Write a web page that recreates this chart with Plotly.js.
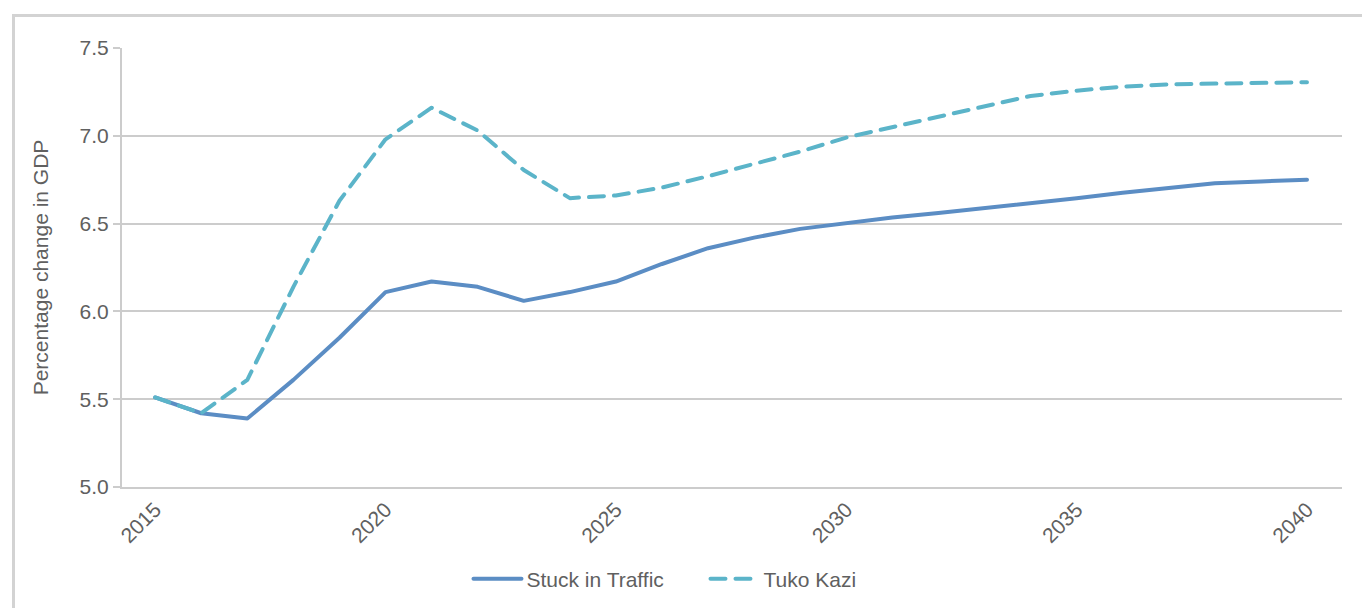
<!DOCTYPE html>
<html>
<head>
<meta charset="utf-8">
<script src="https://cdn.plot.ly/plotly-3.0.1.min.js"></script>
<style>
  html, body { margin: 0; padding: 0; background: #ffffff; overflow: hidden; }
  #frame { position: absolute; left: 12px; top: 14px; width: 1400px; height: 700px;
           border: 3px solid #d3d3d3; box-sizing: border-box; z-index: 0; }
  #chart { position: absolute; left: 0; top: 0; width: 1362px; height: 608px; z-index: 1; }
  .js-line { stroke-linecap: round; stroke-linejoin: round; }
</style>
</head>
<body>
<div id="frame"></div>
<div id="chart"></div>
<script>
const years = [2015, 2016, 2017, 2018, 2019, 2020, 2021, 2022, 2023, 2024, 2025, 2026, 2027,
               2028, 2029, 2030, 2031, 2032, 2033, 2034, 2035, 2036, 2037, 2038, 2039, 2040];
const stuckInTraffic = [5.51, 5.42, 5.39, 5.61, 5.85, 6.11, 6.17, 6.14, 6.06, 6.11, 6.17, 6.27, 6.36,
                        6.42, 6.47, 6.505, 6.535, 6.56, 6.587, 6.615, 6.645, 6.676, 6.705, 6.73, 6.74, 6.75];
const tukoKazi = [5.51, 5.42, 5.61, 6.14, 6.63, 6.98, 7.16, 7.03, 6.805, 6.645, 6.66, 6.705, 6.77,
                  6.84, 6.91, 6.99, 7.05, 7.105, 7.165, 7.227, 7.257, 7.28, 7.293, 7.297, 7.30, 7.305];
const seriesNames = ["Stuck in Traffic", "Tuko Kazi"];
const xTicks = [2015, 2020, 2025, 2030, 2035, 2040];
const yTicks = [5.0, 5.5, 6.0, 6.5, 7.0, 7.5];
const yTickText = ["5.0", "5.5", "6.0", "6.5", "7.0", "7.5"];

const fontFamily = '"Liberation Sans", Arial, sans-serif';
const textColor = '#606060';
const gridColor = '#cccccc';

const traces = [
  { x: years, y: stuckInTraffic, name: seriesNames[0], type: 'scatter', mode: 'lines',
    line: { color: '#5b8dc4', width: 4 } },
  { x: years, y: tukoKazi, name: seriesNames[1], type: 'scatter', mode: 'lines',
    line: { color: '#5bb4c9', width: 4, dash: '15px,10px' } }
];

const layout = {
  width: 1362, height: 608,
  margin: { l: 122, r: 20, t: 48, b: 121, autoexpand: false },
  paper_bgcolor: 'rgba(0,0,0,0)',
  plot_bgcolor: 'rgba(0,0,0,0)',
  font: { family: fontFamily, size: 21, color: textColor },
  showlegend: true,
  legend: { orientation: 'h', x: 0.284, xanchor: 'left', y: -0.2096, yanchor: 'middle',
            font: { size: 21, color: textColor }, entrywidth: 174, entrywidthmode: 'pixels',
            itemwidth: 48, tracegroupgap: 0 },
  xaxis: {
    range: [2014.28, 2040.76], automargin: false,
    tickmode: 'array', tickvals: xTicks, ticktext: xTicks.map(String),
    tickangle: -45, ticks: '', showgrid: false, zeroline: false,
    showline: true, linecolor: gridColor, linewidth: 2,
    tickfont: { size: 21, color: textColor }
  },
  yaxis: {
    range: [5.0, 7.5], automargin: false,
    tickmode: 'array', tickvals: yTicks, ticktext: yTickText,
    ticks: 'outside', ticklen: 7, tickwidth: 2, tickcolor: gridColor,
    showgrid: true, gridcolor: gridColor, gridwidth: 2, zeroline: false,
    showline: true, linecolor: gridColor, linewidth: 2,
    tickfont: { size: 21, color: textColor },
    title: { text: 'Percentage change in GDP', standoff: 25,
             font: { size: 21, color: textColor } }
  }
};

Plotly.newPlot('chart', traces, layout, { displayModeBar: false, staticPlot: true });
</script>
</body>
</html>
